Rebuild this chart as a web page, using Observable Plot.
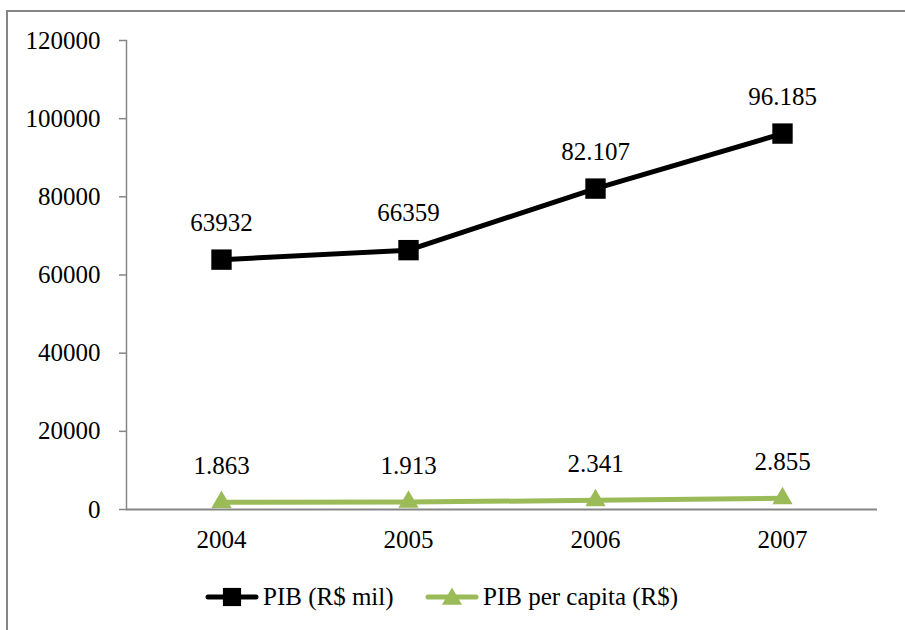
<!DOCTYPE html>
<html>
<head>
<meta charset="utf-8">
<script src="https://cdn.jsdelivr.net/npm/d3@7"></script>
<script src="https://cdn.jsdelivr.net/npm/@observablehq/plot@0.6"></script>
<style>
  html, body { margin: 0; padding: 0; background: #fff; }
  body { width: 905px; height: 630px; overflow: hidden; position: relative;
         font-family: 'Liberation Serif', 'Times New Roman', Times, serif; }
  #chart { position: absolute; left: 0; top: 0; }
  #border { position: absolute; left: 6px; top: 10px; width: 1000px; height: 1000px;
            border: 2px solid #868686; box-sizing: border-box; pointer-events: none; }
  #legend { position: absolute; left: 0; top: 582px; width: 905px; height: 30px;
            font-size: 25px; color: #000; line-height: 30px; }
  #legend .item { position: absolute; top: 0; display: flex; align-items: center; white-space: nowrap; }
  #legend svg { display: block; margin-right: 4px; }
</style>
</head>
<body>
<div id="chart"></div>
<div id="border"></div>
<div id="legend"></div>
<script>
// PIB series, 2004–2007
const years = ["2004", "2005", "2006", "2007"];
const pib = [63932, 66359, 82107, 96185];
const pibLabels = ["63932", "66359", "82.107", "96.185"];
const perCapita = [1863, 1913, 2341, 2855];
const perCapitaLabels = ["1.863", "1.913", "2.341", "2.855"];
const yTicks = [0, 20000, 40000, 60000, 80000, 100000, 120000];

const seriesNames = ["PIB (R$ mil)", "PIB per capita (R$)"];
const colors = ["#000000", "#9BBB59"];
const axisGray = "#868686";
const serif = "'Liberation Serif', 'Times New Roman', Times, serif";

const pibData = years.map((y, i) => ({year: y, value: pib[i], label: pibLabels[i]}));
const capData = years.map((y, i) => ({year: y, value: perCapita[i], label: perCapitaLabels[i]}));

const chart = Plot.plot({
  width: 905,
  height: 560,
  marginLeft: 126,
  marginRight: 28,
  marginTop: 40,
  marginBottom: 51,
  style: {fontFamily: serif, fontSize: "25px", background: "transparent", overflow: "visible"},
  x: {type: "point", domain: years, padding: 0.5},
  y: {domain: [0, 120000]},
  marks: [
    Plot.frame({anchor: "left", stroke: axisGray, strokeWidth: 1.5}),
    Plot.axisY({ticks: yTicks, tickFormat: d => String(d), tickSize: 7, tickPadding: 19,
                stroke: axisGray, strokeWidth: 1.5, label: null, fill: "#000", fontSize: 25}),
    Plot.ruleY([0], {stroke: axisGray, strokeWidth: 2}),
    Plot.axisX({tickSize: 0, tickPadding: 21, label: null, fill: "#000", fontSize: 25}),
    Plot.line(pibData, {x: "year", y: "value", stroke: colors[0], strokeWidth: 5}),
    Plot.line(capData, {x: "year", y: "value", stroke: colors[1], strokeWidth: 5}),
    Plot.dot(pibData, {x: "year", y: "value", symbol: "square", r: 11.5, fill: colors[0], stroke: "none"}),
    Plot.dot(capData, {x: "year", y: "value", symbol: "triangle", r: 7.5, fill: colors[1], stroke: "none"}),
    Plot.text(pibData, {x: "year", y: "value", text: "label", dy: -37, fill: "#000", fontSize: 25}),
    Plot.text(capData, {x: "year", y: "value", text: "label", dy: -36, fill: "#000", fontSize: 25})
  ]
});
document.getElementById("chart").append(chart);

// Legend below the plot: line swatch with the series marker
const legend = d3.select("#legend");
const symbols = [d3.symbolSquare, d3.symbolTriangle];
const symbolSizes = [330, 175];
const itemLeft = [205, 425];
seriesNames.forEach((name, i) => {
  const item = legend.append("div").attr("class", "item").style("left", itemLeft[i] + "px");
  const s = item.append("svg").attr("width", 54).attr("height", 30);
  s.append("line").attr("x1", 3).attr("x2", 51).attr("y1", 15).attr("y2", 15)
    .attr("stroke", colors[i]).attr("stroke-width", 5).attr("stroke-linecap", "round");
  s.append("path").attr("transform", `translate(27,${i === 0 ? 15 : 17})`)
    .attr("d", d3.symbol(symbols[i], symbolSizes[i])()).attr("fill", colors[i]);
  item.append("span").text(name);
});
</script>
</body>
</html>
